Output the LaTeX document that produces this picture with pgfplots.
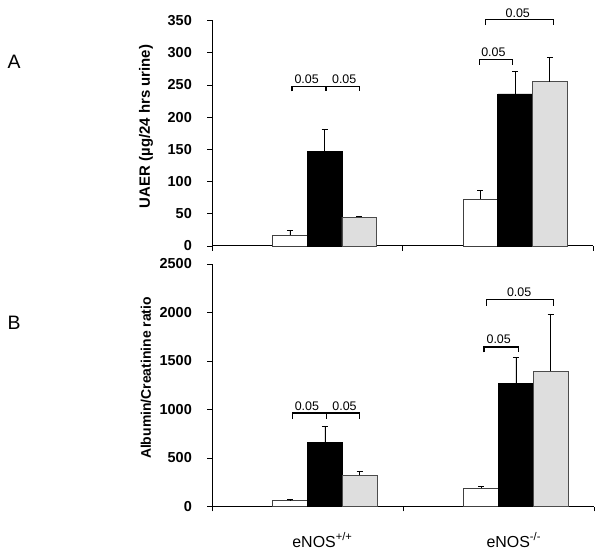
\documentclass[border=0pt]{standalone}
\usepackage{pgfplots}
\pgfplotsset{compat=1.18}
\usepackage{fontspec}
\setmainfont{Liberation Sans}

\pgfplotsset{
  panel/.style={
    scale only axis, width=381bp,
    xmin=0, xmax=2, axis x line=bottom, axis y line=left,
    axis line style={line width=1pt,-},
    xtick={0,1,2}, xticklabels={}, tick align=outside, major tick length=5bp,
    tick style={black, line width=0.8pt},
    ymin=0, clip=false,
    yticklabel style={font=\fontsize{14.5}{14.5}\selectfont\bfseries, anchor=east, inner sep=0pt, xshift=-15bp},
    /pgf/number format/assume math mode=true,
    /pgf/number format/1000 sep={},
    ylabel style={anchor=center},
    error bars/y dir=plus, error bars/y explicit,
    error bars/error mark=|,
    error bars/error bar style={black, line width=0.6pt},
    error bars/error mark options={black, mark size=3bp, line width=0.6pt},
  },
  wbar/.style={ybar, bar width=0.182, bar shift=0pt, fill=white, draw=black!75, line width=0.7pt},
  kbar/.style={ybar, bar width=0.182, bar shift=0pt, fill=black, draw=black, line width=0.7pt},
  gbar/.style={ybar, bar width=0.182, bar shift=0pt, fill=black!13, draw=black!70, line width=0.7pt},
}
\tikzset{
  brk/.style={line width=1.2pt, black},
  pl/.style={font=\fontsize{12.5}{12.5}\selectfont, anchor=center},
  cat/.style={font=\fontsize{16}{16}\selectfont, anchor=base},
}

\begin{document}
\begin{tikzpicture}
\useasboundingbox (0,0) rectangle (602bp,551bp);
\node[font=\fontsize{19.5}{19.5}\selectfont] at (14bp,489bp) {A};
\node[font=\fontsize{19.5}{19.5}\selectfont] at (14bp,228bp) {B};

% Panel A
\begin{axis}[panel, at={(212bp,305bp)}, anchor=south west,
  height=225.5bp, ymax=350, ytick={0,50,...,350},
  ylabel={UAER (µg/24 hrs urine)},
  ylabel style={font=\fontsize{15}{15}\selectfont\bfseries, at={(axis description cs:-0.173,0.53)}}]
\addplot+[wbar, mark=none] coordinates {(0.409,17) +- (0,7) (1.409,73) +- (0,13)};
\addplot+[kbar, mark=none] coordinates {(0.591,147) +- (0,34) (1.591,236) +- (0,35)};
\addplot+[gbar, mark=none] coordinates {(0.773,45) +- (0,1) (1.773,255) +- (0,38)};
% brackets group 1
\draw[brk] (axis cs:0.42,240) -- (axis cs:0.42,247) -- (axis cs:0.773,247) -- (axis cs:0.773,240);
\draw[brk] (axis cs:0.598,247) -- (axis cs:0.598,240);
\node[pl] at (axis cs:0.497,259) {0.05};
\node[pl] at (axis cs:0.694,259) {0.05};
% group 2
\draw[brk] (axis cs:1.403,281) -- (axis cs:1.403,290) -- (axis cs:1.578,290) -- (axis cs:1.578,281);
\node[pl] at (axis cs:1.477,300) {0.05};
\draw[brk] (axis cs:1.437,343) -- (axis cs:1.437,352) -- (axis cs:1.792,352) -- (axis cs:1.792,343);
\node[pl] at (axis cs:1.605,362) {0.05};
\end{axis}

% Panel B
\begin{axis}[panel, at={(212bp,44.5bp)}, anchor=south west,
  width=382bp, height=242.5bp, ymax=2500, ytick={0,500,...,2500},
  ylabel={Albumin/Creatinine ratio},
  ylabel style={font=\fontsize{14}{14}\selectfont\bfseries, at={(axis description cs:-0.173,0.53)}}]
\addplot+[wbar, mark=none] coordinates {(0.409,60) +- (0,12) (1.409,188) +- (0,20)};
\addplot+[kbar, mark=none] coordinates {(0.591,660) +- (0,170) (1.591,1265) +- (0,275)};
\addplot+[gbar, mark=none] coordinates {(0.773,320) +- (0,45) (1.773,1395) +- (0,590)};
% brackets group 1
\draw[brk] (axis cs:0.42,900) -- (axis cs:0.42,963) -- (axis cs:0.773,963) -- (axis cs:0.773,900);
\draw[brk] (axis cs:0.598,963) -- (axis cs:0.598,900);
\node[pl] at (axis cs:0.497,1038) {0.05};
\node[pl] at (axis cs:0.694,1038) {0.05};
% group 2
\draw[brk] (axis cs:1.424,1590) -- (axis cs:1.424,1645) -- (axis cs:1.603,1645) -- (axis cs:1.603,1590);
\node[pl] at (axis cs:1.501,1727) {0.05};
\draw[brk] (axis cs:1.438,2071) -- (axis cs:1.438,2133) -- (axis cs:1.788,2133) -- (axis cs:1.788,2071);
\node[pl] at (axis cs:1.608,2209) {0.05};
% category labels
\node[cat] at (axis cs:0.578,0) [yshift=-40.5bp] {eNOS\textsuperscript{+/+}};
\node[cat] at (axis cs:1.58,0) [yshift=-40.5bp] {eNOS\textsuperscript{-/-}};
\end{axis}
\end{tikzpicture}
\end{document}
